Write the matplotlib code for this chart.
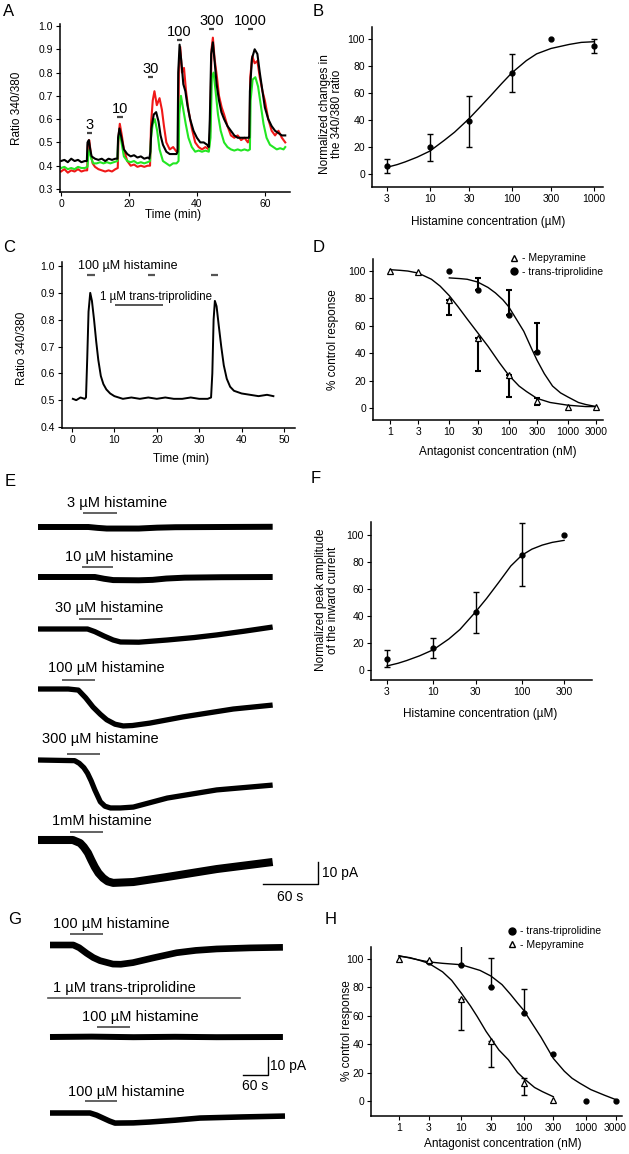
"""Histamine response panels A-H recreated with matplotlib."""

import matplotlib

matplotlib.use("Agg")
import matplotlib.pyplot as plt
import numpy as np
from matplotlib.lines import Line2D
from matplotlib.ticker import NullLocator

W, H = 629, 1154

# ---------------- data ----------------
# A: calcium ratio traces (time min, ratio 340/380)
A_BLACK_T = [0, 1, 2, 3, 4, 5, 6, 7, 7.6, 7.8, 8.2, 8.6, 9, 10, 11, 12, 13, 14, 15, 16, 16.6, 16.8,
             17.2, 17.8, 18.5, 19.5, 20.5, 21.5, 22.5, 23.5, 24.5, 25.5, 26, 26.3, 26.6, 27.3, 28,
             28.7, 29.3, 30, 31, 32, 33, 34, 34.3, 34.5, 34.9, 35.4, 36, 36.6, 37.2, 38, 39, 40, 41,
             42, 43, 43.5, 43.8, 44.2, 44.7, 45.2, 45.8, 46.5, 47.2, 48, 49, 50, 51, 52, 53, 54, 55,
             55.4, 55.6, 56.2, 57, 57.8, 58.5, 59.3, 60, 61, 62, 63, 64, 65, 66]
A_BLACK_V = [0.42, 0.425, 0.415, 0.43, 0.42, 0.425, 0.415, 0.42, 0.42, 0.50, 0.51, 0.47, 0.44, 0.43,
             0.425, 0.43, 0.42, 0.43, 0.425, 0.43, 0.43, 0.52, 0.56, 0.52, 0.47, 0.45, 0.44, 0.445,
             0.435, 0.44, 0.43, 0.435, 0.43, 0.46, 0.56, 0.62, 0.63, 0.59, 0.53, 0.49, 0.46, 0.45,
             0.45, 0.45, 0.46, 0.80, 0.92, 0.85, 0.75, 0.72, 0.66, 0.60, 0.55, 0.52, 0.50, 0.50, 0.49,
             0.48, 0.60, 0.88, 0.93, 0.85, 0.75, 0.68, 0.63, 0.60, 0.57, 0.55, 0.53, 0.52, 0.52, 0.52,
             0.52, 0.52, 0.72, 0.86, 0.90, 0.88, 0.80, 0.72, 0.65, 0.60, 0.57, 0.55, 0.54, 0.53, 0.53]
A_RED_T = [0, 1, 2, 3, 4, 5, 6, 7, 7.7, 7.9, 8.3, 8.8, 9.3, 10, 11, 12, 13, 14, 15, 16, 16.7, 16.9,
           17.3, 17.9, 18.5, 19.5, 20.5, 21.5, 22.5, 23.5, 24.5, 25.5, 26.2, 26.5, 27, 27.5, 28.2,
           29, 29.7, 30.3, 31, 32, 33, 34, 34.5, 34.7, 35.1, 35.6, 36.2, 36.8, 37.5, 38.5, 39.5,
           40.5, 41.5, 42.5, 43.5, 43.9, 44.3, 44.7, 45.2, 45.9, 46.5, 47.3, 48, 49, 50, 51, 52,
           53, 54, 55, 55.5, 55.7, 56.3, 57, 57.8, 58.5, 59.3, 60, 61, 62, 63, 64, 65, 66]
A_RED_V = [0.375, 0.385, 0.37, 0.38, 0.375, 0.385, 0.375, 0.38, 0.38, 0.49, 0.51, 0.45, 0.41, 0.395,
           0.385, 0.38, 0.375, 0.38, 0.375, 0.385, 0.39, 0.52, 0.58, 0.53, 0.47, 0.42, 0.40, 0.405,
           0.395, 0.40, 0.395, 0.40, 0.40, 0.58, 0.68, 0.72, 0.66, 0.69, 0.64, 0.57, 0.50, 0.47,
           0.48, 0.46, 0.47, 0.82, 0.91, 0.80, 0.82, 0.72, 0.64, 0.56, 0.50, 0.48, 0.47, 0.48, 0.47,
           0.55, 0.90, 0.95, 0.86, 0.78, 0.70, 0.65, 0.62, 0.57, 0.53, 0.52, 0.53, 0.51, 0.52, 0.50,
           0.52, 0.78, 0.87, 0.84, 0.85, 0.78, 0.72, 0.68, 0.60, 0.55, 0.53, 0.55, 0.52, 0.50]
A_GREEN_T = [0, 1, 2, 3, 4, 5, 6, 7, 7.8, 8, 8.4, 8.9, 9.5, 10.5, 11.5, 12.5, 13.5, 14.5, 15.5,
             16.6, 16.8, 17.2, 17.8, 18.5, 19.5, 20.5, 21.5, 22.5, 23.5, 24.5, 25.5, 26.2, 26.5, 27,
             27.6, 28.3, 29, 30, 31, 32, 33, 34, 34.6, 34.8, 35.3, 36, 36.7, 37.5, 38.5, 39.5, 40.5,
             41.5, 42.5, 43.5, 44, 44.4, 44.9, 45.5, 46.2, 47, 48, 49, 50, 51, 52, 53, 54, 55, 55.6,
             55.8, 56.4, 57.2, 58, 58.8, 59.6, 60.5, 61.5, 62.5, 63.5, 64.5, 65.5, 66]
A_GREEN_V = [0.39, 0.395, 0.385, 0.39, 0.385, 0.395, 0.39, 0.39, 0.395, 0.44, 0.47, 0.43, 0.41,
             0.41, 0.415, 0.41, 0.415, 0.41, 0.415, 0.42, 0.50, 0.55, 0.50, 0.44, 0.42, 0.415, 0.42,
             0.41, 0.415, 0.41, 0.415, 0.42, 0.52, 0.58, 0.60, 0.55, 0.47, 0.42, 0.41, 0.40, 0.41,
             0.41, 0.42, 0.62, 0.70, 0.64, 0.58, 0.52, 0.48, 0.46, 0.465, 0.46, 0.465, 0.46, 0.52,
             0.78, 0.80, 0.72, 0.62, 0.55, 0.50, 0.48, 0.47, 0.465, 0.47, 0.465, 0.47, 0.465, 0.47,
             0.68, 0.77, 0.78, 0.74, 0.66, 0.58, 0.52, 0.49, 0.48, 0.47, 0.475, 0.47, 0.48]
A_CONC_LABELS = ["3", "10", "30", "100", "300", "1000"]
A_APP_START = [7.6, 16.5, 25.6, 34.0, 43.5, 55.0]
A_APP_LEN = 1.6
A_YTICKS = [0.3, 0.4, 0.5, 0.6, 0.7, 0.8, 0.9, 1.0]
A_YTICKLABELS = ["0.3", "0.4", "0.5", "0.6", "0.7", "0.8", "0.9", "1.0"]
A_XTICKS = [0, 20, 40, 60]

# B: concentration-response (histamine, ratio)
B_CONC = [3, 10, 30, 100, 300, 1000]
B_MEAN = [6, 20, 39, 75, 100, 95]
B_ERR = [5, 10, 19, 14, 0, 5]
B_FIT_X = [3, 4, 5, 7, 10, 15, 20, 30, 40, 55, 75, 100, 150, 200, 300, 500, 700, 1000]
B_FIT_Y = [5, 7, 9, 12.5, 17, 25, 31, 41, 49, 58, 67, 75, 84, 89, 93, 96, 97.5, 98]
CONC_TICKS_UM = [3, 10, 30, 100, 300, 1000]

# C: ratio trace with antagonist
C_T = [0.2, 1, 2, 3, 3.3, 3.6, 3.9, 4.3, 4.7, 5.2, 5.7, 6.2, 6.8, 7.4, 8.1, 9, 10, 11, 12, 14, 16,
       18, 20, 22, 24, 26, 28, 30, 32, 32.8, 33.1, 33.4, 33.7, 34.1, 34.6, 35.2, 35.8, 36.5, 37.3,
       38.2, 40, 42, 44, 46, 47.5]
C_V = [0.505, 0.50, 0.51, 0.505, 0.51, 0.66, 0.83, 0.90, 0.87, 0.80, 0.72, 0.65, 0.59, 0.56,
       0.54, 0.525, 0.515, 0.51, 0.505, 0.51, 0.505, 0.51, 0.505, 0.51, 0.505, 0.505, 0.51, 0.505,
       0.505, 0.51, 0.60, 0.80, 0.87, 0.85, 0.78, 0.70, 0.63, 0.58, 0.55, 0.535, 0.525, 0.52,
       0.515, 0.52, 0.515]
C_HIST_APPS = [(3.5, 5.4), (18.0, 19.6), (32.8, 34.5)]
C_TRIP_APP = (10.1, 21.5)
C_YTICKS = [0.4, 0.5, 0.6, 0.7, 0.8, 0.9, 1.0]
C_YTICKLABELS = ["0.4", "0.5", "0.6", "0.7", "0.8", "0.9", "1.0"]
C_XTICKS = [0, 10, 20, 30, 40, 50]

# D: antagonist curves (calcium)
D_MEP_X = [1, 3, 10, 30, 100, 300, 1000, 3000]
D_MEP_Y = [100, 99, 79, 51, 24, 5, 1, 1]
D_MEP_LO = [0, 0, 11, 24, 16, 3, 0, 0]
D_MEP_HI = [0, 0, 0, 0, 0, 2, 0, 0]
D_TRIP_X = [10, 30, 100, 300]
D_TRIP_Y = [100, 86, 68, 41]
D_TRIP_HI = [0, 9, 18, 21]
D_MEP_FIT_X = [1, 1.5, 2, 3, 5, 7, 10, 14, 20, 30, 45, 70, 100, 150, 200, 300, 500, 1000, 2000, 3000]
D_MEP_FIT_Y = [101, 100.5, 100, 98.5, 94, 89, 82, 74, 65, 55, 45, 33, 24, 16, 12, 7, 4, 2, 1, 1]
D_TRIP_FIT_X = [10, 15, 20, 30, 45, 60, 80, 100, 130, 180, 240, 300, 400, 550, 750, 1000, 1500,
                2000, 3000]
D_TRIP_FIT_Y = [95, 94.5, 94, 92, 88, 84, 79, 74, 66, 56, 44, 35, 25, 16, 11, 8, 4, 2.5, 1]
CONC_TICKS_NM = [1, 3, 10, 30, 100, 300, 1000, 3000]

# E: whole-cell currents (s, pA relative to baseline)
E_LABELS = ["3 µM histamine", "10 µM histamine", "30 µM histamine", "100 µM histamine",
            "300 µM histamine", "1mM histamine"]
E_APPS = [(49, 86), (48, 82), (45, 81), (26, 62), (32, 68), (35, 71)]
E_TRACES = [
    ([0, 55, 65, 75, 110, 130, 150, 200, 256],
     [0, 0, -0.4, -0.7, -0.7, -0.3, -0.1, 0, 0.1]),
    ([0, 62, 72, 82, 110, 125, 140, 160, 200, 256],
     [0, 0, -0.8, -1.4, -1.5, -1.3, -0.7, -0.3, -0.1, 0]),
    ([0, 54, 62, 72, 82, 90, 110, 141, 170, 195, 225, 256],
     [0, 0, -1.2, -3.2, -5.0, -5.9, -6.0, -5.0, -3.9, -2.7, -1.0, 0.9]),
    ([0, 33, 44, 52, 60, 68, 75, 84, 93, 103, 122, 158, 213, 256],
     [0, 0, -0.5, -4, -8.2, -11.5, -14, -16, -16.8, -16.6, -15.5, -12.7, -9.1, -7.3]),
    ([0, 40, 45, 50, 54, 58, 62, 68, 73, 79, 90, 104, 141, 195, 256],
     [0, -0.3, -1.5, -3.5, -6, -9.5, -13.6, -19, -21, -21.8, -21.8, -21.4, -17.3, -13.6, -11.4]),
    ([0, 38, 46, 50, 54.5, 58, 62, 66, 71, 76, 82, 104, 141, 195, 256],
     [0, 0, -1.4, -3.2, -5.9, -9, -12.3, -15, -17.3, -18.8, -19.5, -19.1, -16.8, -13.2, -10]),
]

# F: peak current concentration-response
F_CONC = [3, 10, 30, 100, 300]
F_MEAN = [8, 16.5, 43, 85.5, 100]
F_LO = [6, 7.5, 15.5, 23.5, 0]
F_HI = [7, 7.2, 15, 23.5, 0]
F_FIT_X = [3, 4, 5, 7, 10, 15, 20, 30, 40, 55, 75, 100, 130, 170, 220, 300]
F_FIT_Y = [3, 5, 7, 10.5, 15, 23, 30, 43, 53, 65, 77, 85, 89.5, 92.5, 94.5, 96]
CONC_TICKS_F = [3, 10, 30, 100, 300]

# G: currents with antagonist (s, pA relative to baseline)
G_LABELS = ["100 µM histamine", "100 µM histamine", "100 µM histamine"]
G_APPS = [(48, 127), (113, 192), (84, 161)]
G_TRIP_APP = (-5, 456)
G_TRACES = [
    ([0, 56, 70, 88, 104, 120, 151, 170, 199, 247, 304, 350, 400, 480, 559],
     [0, 0, -1.5, -4.6, -7, -8.7, -10.6, -10.7, -9.8, -7.2, -4.3, -3, -2.2, -1.6, -1.3]),
    ([0, 100, 200, 300, 400, 559],
     [0, 0.2, -0.1, 0.1, -0.1, 0]),
    ([0, 96, 112, 127, 143, 156, 200, 240, 300, 360, 460, 564],
     [0, 0, -1.2, -2.8, -4.5, -5.6, -5.5, -5, -4, -2.8, -2.2, -1.7]),
]

# H: antagonist curves (current)
H_MEP_X = [1, 3, 10, 30, 100, 300]
H_MEP_Y = [100, 99, 72, 42, 13, 1]
H_MEP_LO = [0, 0, 22, 18, 9, 0]
H_MEP_HI = [0, 0, 0, 0, 3, 0]
H_TRIP_X = [3, 10, 30, 100, 300, 1000, 3000]
H_TRIP_Y = [98, 96, 80, 62, 33, 0, 0]
H_TRIP_HI = [0, 14, 21, 17, 0, 0, 0]
H_MEP_FIT_X = [1, 1.5, 2, 3, 5, 7, 10, 14, 18, 25, 30, 40, 57, 80, 100, 150, 200, 300]
H_MEP_FIT_Y = [102, 101, 99.5, 97, 91, 85, 76, 67, 59.5, 49, 44, 36, 29, 20, 16, 9.5, 6.6, 3]
H_TRIP_FIT_X = [1, 2, 3, 5, 10, 20, 30, 45, 62, 80, 100, 140, 190, 250, 300, 450, 600, 800, 1200,
                2000, 3000]
H_TRIP_FIT_Y = [102.4, 99.5, 98, 97, 96, 92, 88, 82, 75, 69, 64, 54, 45, 36, 30, 21, 16, 12.5, 8,
                4, 1]


# ---------------- helpers ----------------
def fxy(x, y):
    return x / W, 1 - y / H


def axes_px(fig, left, top, right, bottom):
    return fig.add_axes([left / W, 1 - bottom / H, (right - left) / W, (bottom - top) / H])


def style_axes(ax):
    for side in ("top", "right"):
        ax.spines[side].set_visible(False)
    for side in ("left", "bottom"):
        ax.spines[side].set_linewidth(1.1)
    ax.tick_params(direction="out", length=3, width=0.8, labelsize=7.5, pad=2)


def set_labels(fig, ax, xlabel, xpos, ylabel, ypos, size=8.5):
    ax.set_xlabel(xlabel, fontsize=size, va="center")
    ax.xaxis.set_label_coords(*fxy(*xpos), transform=fig.transFigure)
    ax.set_ylabel(ylabel, fontsize=size, va="center", linespacing=1.0)
    ax.yaxis.set_label_coords(*fxy(*ypos), transform=fig.transFigure)


def log_ticks(ax, ticks):
    ax.set_xscale("log")
    ax.set_xticks(ticks)
    ax.set_xticklabels([str(t) for t in ticks])
    ax.xaxis.set_minor_locator(NullLocator())


def errbars(ax, x, y, lo, hi, lw=1.0):
    x, y, lo, hi = map(np.asarray, (x, y, lo, hi))
    keep = (lo > 0) | (hi > 0)
    ax.errorbar(x[keep], y[keep], yerr=[lo[keep], hi[keep]], fmt="none", ecolor="black",
                elinewidth=lw, capsize=2, capthick=lw)


def panel_letter(fig, letter, x, y):
    fig.text(*fxy(x, y), letter, fontsize=12, ha="left", va="center")


def main() -> None:
    plt.rcParams["font.family"] = ["Liberation Sans", "DejaVu Sans"]
    fig = plt.figure(figsize=(W / 100, H / 100), dpi=100)

    # ---- A ----
    ax = axes_px(fig, 60, 24, 290, 192)
    style_axes(ax)
    ax.plot(A_RED_T, A_RED_V, color="#f01818", lw=1.5)
    ax.plot(A_GREEN_T, A_GREEN_V, color="#22e622", lw=1.5)
    ax.plot(A_BLACK_T, A_BLACK_V, color="black", lw=1.5)
    bar_y = [0.54, 0.61, 0.78, 0.94, 0.987, 0.987]
    for lab, start, by in zip(A_CONC_LABELS, A_APP_START, bar_y):
        ax.plot([start, start + A_APP_LEN], [by, by], color="#444444", lw=1.6,
                solid_capstyle="butt")
        ax.text(start + A_APP_LEN / 2, by + 0.035, lab, fontsize=10.5, ha="center", va="center")
    ax.set_xlim(-0.3, 67.4)
    ax.set_ylim(0.287, 1.0086)
    ax.set_yticks(A_YTICKS)
    ax.set_yticklabels(A_YTICKLABELS)
    ax.set_xticks(A_XTICKS)
    set_labels(fig, ax, "Time (min)", (173, 215), "Ratio 340/380", (17, 108))
    panel_letter(fig, "A", 3, 12)

    # ---- B ----
    ax = axes_px(fig, 372, 27, 603, 187)
    style_axes(ax)
    ax.plot(B_FIT_X, B_FIT_Y, color="black", lw=1.0)
    errbars(ax, B_CONC, B_MEAN, B_ERR, B_ERR)
    ax.plot(B_CONC, B_MEAN, "o", color="black", ms=3.5)
    log_ticks(ax, CONC_TICKS_UM)
    ax.set_xlim(1.97, 1290)
    ax.set_ylim(-9.6, 108.9)
    ax.set_yticks(range(0, 101, 20))
    set_labels(fig, ax, "Histamine concentration (µM)", (488, 222),
               "Normalized changes in\nthe 340/380 ratio", (331, 114))
    panel_letter(fig, "B", 313, 12)

    # ---- C ----
    ax = axes_px(fig, 62, 262, 295, 428)
    style_axes(ax)
    ax.plot(C_T, C_V, color="black", lw=1.4)
    for a, b in C_HIST_APPS:
        ax.plot([a, b], [0.965, 0.965], color="#555555", lw=1.6, solid_capstyle="butt")
    ax.plot(list(C_TRIP_APP), [0.855, 0.855], color="#555555", lw=1.4, solid_capstyle="butt")
    ax.text(1.4, 1.0, "100 µM histamine", fontsize=9, ha="left", va="center")
    ax.text(6.6, 0.885, "1 µM trans-triprolidine", fontsize=8.3, ha="left", va="center")
    ax.set_xlim(-2.36, 52.6)
    ax.set_ylim(0.3963, 1.0149)
    ax.set_yticks(C_YTICKS)
    ax.set_yticklabels(C_YTICKLABELS)
    ax.set_xticks(C_XTICKS)
    set_labels(fig, ax, "Time (min)", (181, 459), "Ratio 340/380", (22, 348))
    panel_letter(fig, "C", 3, 247)

    # ---- D ----
    ax = axes_px(fig, 373, 259, 603, 420)
    style_axes(ax)
    ax.plot(D_MEP_FIT_X, D_MEP_FIT_Y, color="black", lw=1.0)
    ax.plot(D_TRIP_FIT_X, D_TRIP_FIT_Y, color="black", lw=1.0)
    errbars(ax, D_MEP_X, D_MEP_Y, D_MEP_LO, D_MEP_HI, lw=1.5)
    errbars(ax, D_TRIP_X, D_TRIP_Y, [0] * len(D_TRIP_X), D_TRIP_HI, lw=1.5)
    ax.plot(D_TRIP_X, D_TRIP_Y, "o", color="black", ms=3.5)
    ax.plot(D_MEP_X, D_MEP_Y, "^", mfc="white", mec="black", ms=4, mew=0.9)
    log_ticks(ax, CONC_TICKS_NM)
    ax.set_xlim(0.517, 3900)
    ax.set_ylim(-8.8, 108.8)
    ax.set_yticks(range(0, 101, 20))
    h_mep = Line2D([], [], ls="none", marker="^", mfc="white", mec="black", ms=5)
    h_trip = Line2D([], [], ls="none", marker="o", color="black", ms=5)
    fig.legend([h_mep, h_trip], ["- Mepyramine", "- trans-triprolidine"], loc="upper left",
               bbox_to_anchor=fxy(505, 248), frameon=False, fontsize=7.5, handlelength=0.8,
               handletextpad=0.3, labelspacing=0.35, borderpad=0)
    set_labels(fig, ax, "Antagonist concentration (nM)", (498, 452),
               "% control response", (333, 340))
    panel_letter(fig, "D", 313, 247)

    # ---- E ----
    e_sx, e_sy = 55 / 60, 2.2  # px per s, px per pA
    e_left, e_top, e_right, e_bottom, e_x0 = 30, 490, 330, 905, 38
    ax = axes_px(fig, e_left, e_top, e_right, e_bottom)
    ax.axis("off")
    ax.set_xlim((e_left - e_x0) / e_sx, (e_right - e_x0) / e_sx)
    ax.set_ylim(-(e_bottom - e_top) / e_sy, 0)

    def ex(px):
        return (px - e_x0) / e_sx

    def ey(py):
        return -(py - e_top) / e_sy

    base_px = [527, 577, 629, 689, 760, 840]
    bar_px = [513, 567, 619, 680, 754, 832]
    text_px = [(67, 503), (65, 557), (55, 608), (48, 668), (42, 739), (52, 821)]
    widths = [4.3, 4.3, 3.8, 3.8, 3.8, 5.8]
    for (tt, ii), base, by, (tx, ty), lab, (a, b), lw in zip(
            E_TRACES, base_px, bar_px, text_px, E_LABELS, E_APPS, widths):
        ax.plot(tt, np.asarray(ii) + ey(base), color="black", lw=lw, solid_capstyle="butt",
                solid_joinstyle="round")
        ax.plot([a, b], [ey(by)] * 2, color="#555555", lw=1.3, solid_capstyle="butt")
        ax.text(ex(tx), ey(ty), lab, fontsize=10.5, ha="left", va="center")
    sb_t1, sb_y = ex(318), ey(884)
    ax.plot([sb_t1 - 60, sb_t1, sb_t1], [sb_y, sb_y, sb_y + 10], color="black", lw=1.0,
            clip_on=False)
    ax.text(sb_t1 + 4, sb_y + 5, "10 pA", fontsize=10, ha="left", va="center")
    ax.text(sb_t1 - 30, ey(897), "60 s", fontsize=10, ha="center", va="center")
    panel_letter(fig, "E", 5, 481)

    # ---- F ----
    ax = axes_px(fig, 371, 522, 592, 680)
    style_axes(ax)
    ax.plot(F_FIT_X, F_FIT_Y, color="black", lw=1.0)
    errbars(ax, F_CONC, F_MEAN, F_LO, F_HI)
    ax.plot(F_CONC, F_MEAN, "o", color="black", ms=3.5)
    log_ticks(ax, CONC_TICKS_F)
    ax.set_xlim(1.98, 620)
    ax.set_ylim(-7.4, 109.6)
    ax.set_yticks(range(0, 101, 20))
    set_labels(fig, ax, "Histamine concentration (µM)", (480, 714),
               "Normalized peak amplitude\nof the inward current", (327, 600))
    panel_letter(fig, "F", 311, 478)

    # ---- G ----
    g_sx, g_sy = 25 / 60, 1.8
    g_left, g_top, g_right, g_bottom, g_x0 = 44, 905, 330, 1135, 50
    ax = axes_px(fig, g_left, g_top, g_right, g_bottom)
    ax.axis("off")
    ax.set_xlim((g_left - g_x0) / g_sx, (g_right - g_x0) / g_sx)
    ax.set_ylim(-(g_bottom - g_top) / g_sy, 0)

    def gx(px):
        return (px - g_x0) / g_sx

    def gy(py):
        return -(py - g_top) / g_sy

    base_px = [945, 1037, 1113]
    bar_px = [934, 1027, 1101]
    text_px = [(53, 924), (82, 1017), (68, 1092)]
    widths = [4.8, 4.3, 4.0]
    for (tt, ii), base, by, (tx, ty), lab, (a, b), lw in zip(
            G_TRACES, base_px, bar_px, text_px, G_LABELS, G_APPS, widths):
        ax.plot(tt, np.asarray(ii) + gy(base), color="black", lw=lw, solid_capstyle="butt",
                solid_joinstyle="round")
        ax.plot([a, b], [gy(by)] * 2, color="#555555", lw=1.3, solid_capstyle="butt")
        ax.text(gx(tx), gy(ty), lab, fontsize=10.5, ha="left", va="center")
    ax.plot(list(G_TRIP_APP), [gy(998)] * 2, color="#555555", lw=1.2, clip_on=False)
    ax.text(gx(53), gy(988), "1 µM trans-triprolidine", fontsize=10.5, ha="left", va="center")
    sb_t1, sb_y = gx(268), gy(1075)
    ax.plot([sb_t1 - 60, sb_t1, sb_t1], [sb_y, sb_y, sb_y + 10], color="black", lw=1.0)
    ax.text(sb_t1 + 5, sb_y + 5, "10 pA", fontsize=10, ha="left", va="center")
    ax.text(sb_t1 - 30, gy(1086), "60 s", fontsize=10, ha="center", va="center")
    panel_letter(fig, "G", 8, 920)

    # ---- H ----
    ax = axes_px(fig, 371, 947, 622, 1116)
    style_axes(ax)
    ax.plot(H_MEP_FIT_X, H_MEP_FIT_Y, color="black", lw=1.0)
    ax.plot(H_TRIP_FIT_X, H_TRIP_FIT_Y, color="black", lw=1.0)
    errbars(ax, H_MEP_X, H_MEP_Y, H_MEP_LO, H_MEP_HI)
    errbars(ax, H_TRIP_X, H_TRIP_Y, [0] * len(H_TRIP_X), H_TRIP_HI)
    ax.plot(H_TRIP_X, H_TRIP_Y, "o", color="black", ms=3.5)
    ax.plot(H_MEP_X, H_MEP_Y, "^", mfc="white", mec="black", ms=4, mew=0.9)
    log_ticks(ax, CONC_TICKS_NM)
    ax.set_xlim(0.355, 3800)
    ax.set_ylim(-10.6, 108.5)
    ax.set_yticks(range(0, 101, 20))
    fig.legend([h_trip, h_mep], ["- trans-triprolidine", "- Mepyramine"], loc="upper left",
               bbox_to_anchor=fxy(503, 921), frameon=False, fontsize=7.5, handlelength=0.8,
               handletextpad=0.3, labelspacing=0.35, borderpad=0)
    set_labels(fig, ax, "Antagonist concentration (nM)", (503, 1144),
               "% control response", (347, 1031))
    panel_letter(fig, "H", 325, 919)

    fig.savefig("out.png", dpi=100)


if __name__ == "__main__":
    main()
